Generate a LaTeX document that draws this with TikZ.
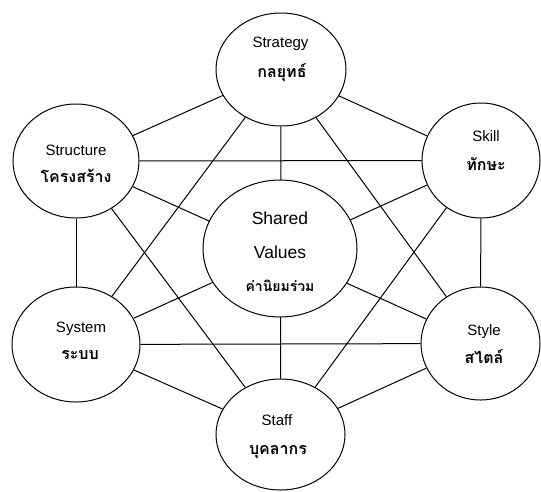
\documentclass[tikz,border=0pt]{standalone}
\usepackage{fontspec}
\setmainfont{Liberation Sans}
\newfontfamily\thaifont[Script=Thai]{Loma}
\usetikzlibrary{shapes.geometric,backgrounds}
\begin{document}
\begin{tikzpicture}[x=1pt,y=-1pt,
  circ/.style={ellipse,draw,fill=white,line width=1pt,inner sep=0pt},
  en/.style={anchor=base,inner sep=0pt,font=\fontsize{15}{17}\selectfont},
  big/.style={anchor=base,inner sep=0pt,font=\fontsize{17.5}{19}\selectfont},
  th/.style={anchor=base,inner sep=0pt,font=\thaifont\bfseries\fontsize{16}{18}\selectfont},
  thsm/.style={anchor=base,inner sep=0pt,font=\thaifont\bfseries\fontsize{14}{16}\selectfont},
  link/.style={line width=1pt}]
\useasboundingbox (0,0) rectangle (541,491);
\node[circ,minimum width=130,minimum height=113] (strat) at (281,69.5) {};
\node[circ,minimum width=126,minimum height=114] (struct) at (76,161) {};
\node[circ,minimum width=118,minimum height=115] (skill) at (481,160.5) {};
\node[circ,minimum width=154,minimum height=137] (shared) at (280,248.5) {};
\node[circ,minimum width=128,minimum height=115] (system) at (76,344.5) {};
\node[circ,minimum width=119,minimum height=113] (style) at (480.5,343.5) {};
\node[circ,minimum width=129,minimum height=111] (staff) at (280.5,434.5) {};
\begin{pgfonlayer}{background}
\foreach \a/\b in {strat/struct,strat/skill,strat/system,strat/style,strat/staff,
  struct/skill,struct/system,struct/style,struct/staff,
  skill/system,skill/style,skill/staff,
  system/style,system/staff,style/staff}
  \draw[link] (\a) -- (\b);
\end{pgfonlayer}
\node[en] (t1) at (280.5,47) {Strategy};
\node[th] (h1) at (282,77) {กลยุทธ์};
\node[en] (t2) at (76,155) {Structure};
\node[th] (h2) at (76,182.5) {โครงสร้าง};
\node[en] (t3) at (486,141.5) {Skill};
\node[th] (h3) at (486,170) {ทักษะ};
\node[big] (t4) at (280,224) {Shared};
\node[big] (t5) at (280,258) {Values};
\node[thsm] (h4) at (280,291.5) {ค่านิยมร่วม};
\node[en] (t6) at (81,332.5) {System};
\node[th] (h6) at (80,359) {ระบบ};
\node[en] (t7) at (484,335) {Style};
\node[th] (h7) at (484,363) {สไตล์};
\node[en] (t8) at (277,425) {Staff};
\node[th] (h8) at (278,454) {บุคลากร};
\end{tikzpicture}
\end{document}
